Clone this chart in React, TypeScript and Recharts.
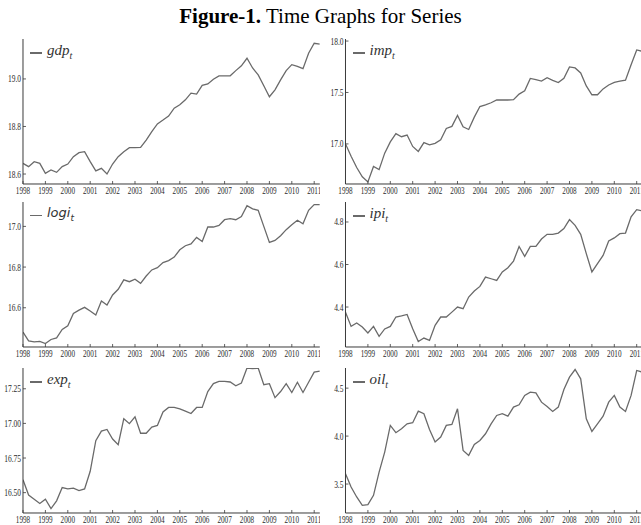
import React from 'react';
import { LineChart, Line, XAxis, YAxis } from 'recharts';

const quarters = [
  1998, 1998.25, 1998.5, 1998.75, 1999, 1999.25, 1999.5, 1999.75,
  2000, 2000.25, 2000.5, 2000.75, 2001, 2001.25, 2001.5, 2001.75,
  2002, 2002.25, 2002.5, 2002.75, 2003, 2003.25, 2003.5, 2003.75,
  2004, 2004.25, 2004.5, 2004.75, 2005, 2005.25, 2005.5, 2005.75,
  2006, 2006.25, 2006.5, 2006.75, 2007, 2007.25, 2007.5, 2007.75,
  2008, 2008.25, 2008.5, 2008.75, 2009, 2009.25, 2009.5, 2009.75,
  2010, 2010.25, 2010.5, 2010.75, 2011, 2011.25,
];

const yearTicks = [1998, 1999, 2000, 2001, 2002, 2003, 2004, 2005, 2006, 2007, 2008, 2009, 2010, 2011];

const gdp = [
  18.645, 18.631, 18.652, 18.645, 18.603, 18.617, 18.607, 18.631,
  18.642, 18.673, 18.69, 18.694, 18.652, 18.613, 18.624, 18.6,
  18.642, 18.673, 18.694, 18.711, 18.711, 18.712, 18.743, 18.778,
  18.811, 18.827, 18.844, 18.877, 18.891, 18.912, 18.94, 18.936,
  18.973, 18.979, 18.999, 19.013, 19.013, 19.013, 19.035, 19.055,
  19.087, 19.046, 19.017, 18.971, 18.925, 18.954, 18.996, 19.035,
  19.06, 19.053, 19.043, 19.108, 19.15, 19.146,
];

const imp = [
  17.0, 16.88, 16.77, 16.68, 16.63, 16.78, 16.75, 16.91,
  17.02, 17.1, 17.07, 17.086, 16.975, 16.927, 17.013, 16.99,
  17.006, 17.04, 17.15, 17.17, 17.277, 17.166, 17.14, 17.26,
  17.363, 17.38, 17.4, 17.427, 17.427, 17.427, 17.43, 17.484,
  17.516, 17.637, 17.624, 17.61, 17.643, 17.618, 17.596, 17.637,
  17.749, 17.739, 17.69, 17.564, 17.478, 17.478, 17.535, 17.573,
  17.599, 17.61, 17.62, 17.77, 17.914, 17.9,
];

const logi = [
  16.48, 16.437, 16.432, 16.435, 16.424, 16.444, 16.452, 16.493,
  16.511, 16.572, 16.588, 16.602, 16.584, 16.564, 16.633, 16.613,
  16.663, 16.691, 16.737, 16.728, 16.74, 16.72, 16.756, 16.786,
  16.797, 16.822, 16.832, 16.849, 16.885, 16.905, 16.914, 16.946,
  16.926, 16.997, 16.997, 17.005, 17.033, 17.038, 17.033, 17.049,
  17.102, 17.086, 17.079, 17.0, 16.921, 16.931, 16.954, 16.984,
  17.008, 17.03, 17.013, 17.079, 17.107, 17.107,
];

const ipi = [
  4.376, 4.309, 4.325, 4.306, 4.278, 4.309, 4.262, 4.297,
  4.309, 4.353, 4.358, 4.365, 4.298, 4.238, 4.254, 4.243,
  4.314, 4.353, 4.353, 4.376, 4.4, 4.392, 4.447, 4.475,
  4.497, 4.541, 4.533, 4.525, 4.565, 4.585, 4.616, 4.685,
  4.638, 4.685, 4.685, 4.72, 4.742, 4.742, 4.748, 4.769,
  4.811, 4.784, 4.742, 4.651, 4.565, 4.604, 4.643, 4.711,
  4.725, 4.745, 4.748, 4.824, 4.858, 4.852,
];

const exp = [
  16.593, 16.483, 16.453, 16.422, 16.453, 16.385, 16.441, 16.537,
  16.527, 16.532, 16.515, 16.527, 16.654, 16.875, 16.944, 16.956,
  16.887, 16.846, 17.034, 16.998, 17.047, 16.929, 16.929, 16.973,
  16.985, 17.083, 17.115, 17.115, 17.105, 17.088, 17.071, 17.115,
  17.115, 17.23, 17.287, 17.304, 17.304, 17.299, 17.272, 17.292,
  17.4, 17.395, 17.4, 17.279, 17.287, 17.186, 17.23, 17.287,
  17.223, 17.297, 17.223, 17.297, 17.37, 17.377,
];

const oil = [
  3.608, 3.469, 3.365, 3.278, 3.285, 3.382, 3.625, 3.833,
  4.111, 4.035, 4.076, 4.128, 4.139, 4.26, 4.233, 4.069,
  3.938, 3.99, 4.111, 4.122, 4.285, 3.851, 3.799, 3.913,
  3.955, 4.024, 4.128, 4.215, 4.233, 4.208, 4.302, 4.326,
  4.424, 4.458, 4.451, 4.354, 4.309, 4.257, 4.302, 4.486,
  4.615, 4.694, 4.597, 4.181, 4.049, 4.128, 4.208, 4.354,
  4.424, 4.302, 4.257, 4.424, 4.684, 4.667,
];

const series = { gdp, imp, logi, ipi, exp, oil };
const data = quarters.map((t, i) => ({
  t,
  gdp: series.gdp[i],
  imp: series.imp[i],
  logi: series.logi[i],
  ipi: series.ipi[i],
  exp: series.exp[i],
  oil: series.oil[i],
}));

const AXIS = '#3a3a3a';
const LINE = '#6a6a6a';
const TICK_FONT = '"Liberation Serif", "DejaVu Serif", serif';

const XTick = (props: any) => {
  const { x, y, payload } = props;
  return (
    <g>
      <line x1={x} x2={x} y1={y} y2={y - 3} stroke={AXIS} strokeWidth={0.8} />
      <text
        transform={`translate(${x} ${y + 10}) scale(0.72 1)`}
        textAnchor="middle"
        fontSize={10}
        fontFamily={TICK_FONT}
        fill="#2a2a2a"
      >
        {payload.value}
      </text>
    </g>
  );
};

const makeYTick = (decimals: number) => (props: any) => {
  const { x, y, payload } = props;
  return (
    <g>
      <line x1={x} x2={x + 3} y1={y} y2={y} stroke={AXIS} strokeWidth={0.8} />
      <text
        transform={`translate(${x - 2} ${y + 3.5}) scale(0.75 1)`}
        textAnchor="end"
        fontSize={10}
        fontFamily={TICK_FONT}
        fill="#2a2a2a"
      >
        {Number(payload.value).toFixed(decimals)}
      </text>
    </g>
  );
};

type PanelProps = {
  left: number;
  plotTop: number;
  axisWidth: number;
  dataKey: string;
  domain: [number, number];
  ticks: number[];
  decimals: number;
  name: string;
  sans?: boolean;
};

const PLOT_W = 296.8;
const PLOT_H = 145;
const TOP_PAD = 2;
const X_AXIS_H = 14;

const Panel = ({ left, plotTop, axisWidth, dataKey, domain, ticks, decimals, name, sans }: PanelProps) => {
  const width = axisWidth + PLOT_W;
  const height = TOP_PAD + PLOT_H + X_AXIS_H;
  return (
    <div style={{ position: 'absolute', left, top: plotTop - TOP_PAD, width, height }}>
      <LineChart
        width={width}
        height={height}
        data={data}
        margin={{ top: TOP_PAD, right: 0, bottom: 0, left: 0 }}
      >
        <XAxis
          dataKey="t"
          type="number"
          domain={[1998, 2011.25]}
          ticks={yearTicks}
          interval={0}
          allowDataOverflow
          height={X_AXIS_H}
          tickSize={0}
          tickMargin={0}
          tickLine={false}
          axisLine={{ stroke: AXIS, strokeWidth: 1 }}
          tick={XTick}
        />
        <YAxis
          type="number"
          domain={domain}
          ticks={ticks}
          interval={0}
          allowDataOverflow
          width={axisWidth}
          tickSize={0}
          tickMargin={0}
          tickLine={false}
          axisLine={{ stroke: AXIS, strokeWidth: 1 }}
          tick={makeYTick(decimals)}
        />
        <Line
          type="linear"
          dataKey={dataKey}
          stroke={LINE}
          strokeWidth={1.3}
          dot={false}
          isAnimationActive={false}
        />
      </LineChart>
      <div
        style={{
          position: 'absolute',
          left: axisWidth + 7,
          top: TOP_PAD + 2,
          display: 'flex',
          alignItems: 'center',
          whiteSpace: 'nowrap',
        }}
      >
        <div style={{ width: 12, height: 1.4, background: LINE, marginRight: 5 }} />
        <span
          style={{
            fontFamily: sans ? '"DejaVu Sans", sans-serif' : '"Liberation Serif", serif',
            fontStyle: 'italic',
            fontSize: sans ? 13 : 15,
            color: '#333',
            lineHeight: '18px',
          }}
        >
          {name}
          <sub style={{ fontSize: sans ? 9 : 10 }}>t</sub>
        </span>
      </div>
    </div>
  );
};

export default function App() {
  return (
    <div
      style={{
        position: 'absolute',
        left: 0,
        top: 0,
        width: 641,
        height: 525,
        overflow: 'hidden',
        background: '#fff',
      }}
    >
      <div
        style={{
          position: 'absolute',
          left: 0,
          top: 4,
          width: 641,
          textAlign: 'center',
          fontFamily: '"Liberation Serif", "Times New Roman", serif',
          fontSize: 21,
          lineHeight: '24px',
          color: '#000',
        }}
      >
        <b>Figure-1.</b> Time Graphs for Series
      </div>
      <Panel left={0} plotTop={39} axisWidth={23} dataKey="gdp" domain={[18.558, 19.168]} ticks={[18.6, 18.8, 19.0]} decimals={1} name="gdp" />
      <Panel left={320} plotTop={39} axisWidth={25.5} dataKey="imp" domain={[16.61, 18.02]} ticks={[17.0, 17.5, 18.0]} decimals={1} name="imp" />
      <Panel left={0} plotTop={202} axisWidth={23} dataKey="logi" domain={[16.407, 17.12]} ticks={[16.6, 16.8, 17.0]} decimals={1} name="logi" sans />
      <Panel left={320} plotTop={202} axisWidth={25.5} dataKey="ipi" domain={[4.212, 4.894]} ticks={[4.4, 4.6, 4.8]} decimals={1} name="ipi" />
      <Panel left={0} plotTop={368} axisWidth={23} dataKey="exp" domain={[16.353, 17.4]} ticks={[16.5, 16.75, 17.0, 17.25]} decimals={2} name="exp" />
      <Panel left={320} plotTop={368} axisWidth={25.5} dataKey="oil" domain={[3.198, 4.71]} ticks={[3.5, 4.0, 4.5]} decimals={1} name="oil" />
    </div>
  );
}
